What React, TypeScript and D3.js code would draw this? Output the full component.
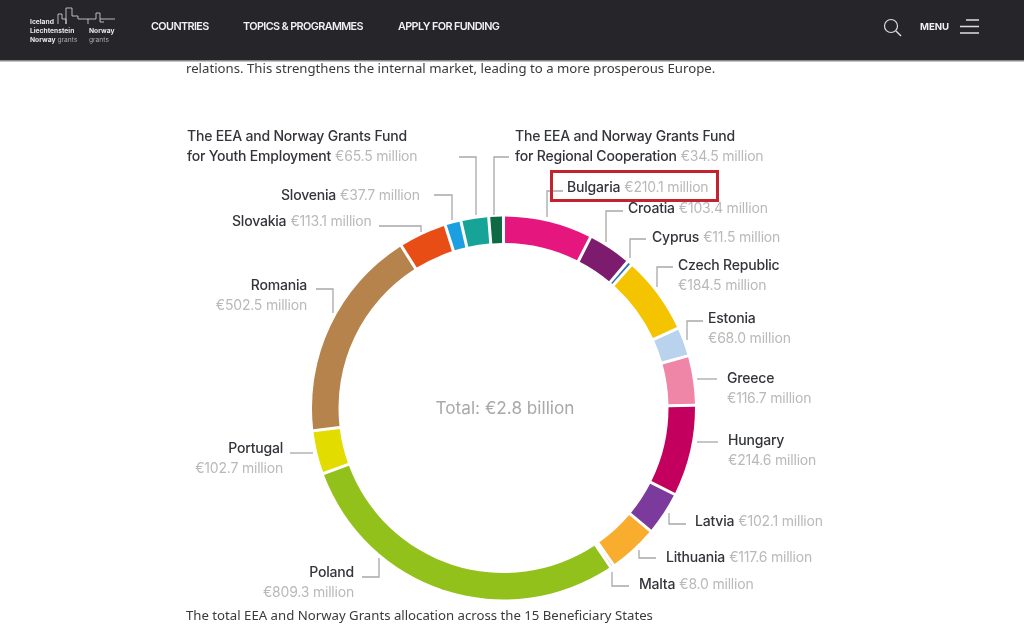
import React from 'react';
import * as d3 from 'd3';

const countries = ['Bulgaria','Croatia','Cyprus','Czech Republic','Estonia','Greece','Hungary','Latvia','Lithuania','Malta','Poland','Portugal','Romania','Slovakia','Slovenia','Youth','Regional'];
const allocations = [210.1,103.4,11.5,184.5,68.0,116.7,214.6,102.1,117.6,8.0,809.3,102.7,502.5,113.1,37.7,65.5,34.5];
const colours = ['#e6177f','#7d1f6e','#2f6fb5','#f5c400','#b9d2ee','#ef86a8','#c4005f','#7c3a9c','#f8ad2f','#c2c2ae','#93c11c','#e2dc04','#b5834b','#e94e16','#1e9fe0','#17a398','#0b6a45'];
const navItems = [['COUNTRIES',151],['TOPICS & PROGRAMMES',243],['APPLY FOR FUNDING',398]] as const;

// label layout: lines of [dark text, grey text], x, first baseline, anchor, leader polyline
type L = { lines: [string,string][]; x:number; y:number; a?:'start'|'end'; dy?:number; leader:[number,number][] };
const fmt = (i:number) => `€${allocations[i].toFixed(1)} million`;
const labels: L[] = [
  {lines:[['Bulgaria',fmt(0)]],x:567,y:192,leader:[[547,217],[547,191],[563,191]]},
  {lines:[['Croatia',fmt(1)]],x:628,y:213,leader:[[606,242],[606,211],[623,211]]},
  {lines:[['Cyprus',fmt(2)]],x:652,y:242,leader:[[630,258],[630,239],[646,239]]},
  {lines:[['Czech Republic',''],['',fmt(3)]],x:678,y:270,leader:[[657,287],[657,267],[673,267]]},
  {lines:[['Estonia',''],['',fmt(4)]],x:708,y:323,leader:[[687,340],[687,321],[703,321]]},
  {lines:[['Greece',''],['',fmt(5)]],x:727,y:383,leader:[[697,379],[717,379]]},
  {lines:[['Hungary',''],['',fmt(6)]],x:728,y:445,leader:[[697,442],[718,442]]},
  {lines:[['Latvia',fmt(7)]],x:695,y:526,leader:[[669,513],[669,524],[686,524]]},
  {lines:[['Lithuania',fmt(8)]],x:666,y:562,leader:[[639,550],[639,558],[656,558]]},
  {lines:[['Malta',fmt(9)]],x:639,y:589,leader:[[612,572],[612,586],[629,586]]},
  {lines:[['Poland',''],['',fmt(10)]],x:354,y:577,a:'end',leader:[[362,577],[379,577],[379,558]]},
  {lines:[['Portugal',''],['',fmt(11)]],x:283,y:453,a:'end',leader:[[290,453],[313,453]]},
  {lines:[['Romania',''],['',fmt(12)]],x:307,y:290,a:'end',leader:[[316,289],[333,289],[333,313]]},
  {lines:[['Slovakia',fmt(13)]],x:232,y:226,leader:[[379,226],[421,226],[421,232]]},
  {lines:[['Slovenia',fmt(14)]],x:281,y:200,leader:[[434,195],[452,195],[452,220]]},
  {lines:[['The EEA and Norway Grants Fund',''],['for Youth Employment',fmt(15)]],x:187,y:141,leader:[[459,157],[476,157],[476,215]]},
  {lines:[['The EEA and Norway Grants Fund',''],['for Regional Cooperation',fmt(16)]],x:515,y:141,leader:[[494,215],[494,157],[509,157]]},
];

const font = 'Inter, "Liberation Sans", sans-serif';
const cx = 503.5, cy = 408, rOuter = 191.5, rInner = 165;

export default function App() {
  const pie = d3.pie<number>().sort(null);
  const arc = d3.arc<d3.PieArcDatum<number>>().innerRadius(rInner).outerRadius(rOuter).padAngle(0.012);
  const slices = pie(allocations);
  const line = d3.line();
  return (
    <svg width={1024} height={643} style={{position:'absolute',left:0,top:0,background:'#fff'}}>
      <defs><filter id="soft" x="0" y="0" width="100%" height="100%"><feGaussianBlur stdDeviation="0.45"/></filter></defs>
      <g filter="url(#soft)">
      <text x={186} y={73} fontFamily='"Noto Sans", sans-serif' fontSize={13.2} fill="#3a3a3a">relations. This strengthens the internal market, leading to a more prosperous Europe.</text>
      <rect x={0} y={0} width={1024} height={61} fill="#25262b"/>
      <rect x={0} y={60} width={1024} height={1.5} fill="#8a8a8a"/>
      {/* logo */}
      <g fontFamily={font} fontWeight={700} fontSize={6.7} fill="#e8e8e8">
        <text x={30} y={23.5}>Iceland</text>
        <text x={30} y={32.5}>Liechtenstein</text>
        <text x={30} y={41.5}>Norway<tspan fontWeight={400} fill="#aaa" dx={2}>grants</tspan></text>
        <text x={89} y={32.5}>Norway</text>
        <text x={89} y={41.5} fontWeight={400} fill="#aaa">grants</text>
      </g>
      <path d="M58 24V14H62V19H66V24M66 24V8H72V16H78V19H88V24M88 19H96V13H100V22H104M100 19H115" fill="none" stroke="#ddd" strokeWidth={0.8}/>
      {navItems.map(([t,x]) => <text key={t} x={x} y={30} fontFamily={font} fontWeight={600} fontSize={10.8} letterSpacing={-0.6} fill="#f1f1f1">{t}</text>)}
      <circle cx={891} cy={26} r={6.5} fill="none" stroke="#ddd" strokeWidth={1.2}/>
      <path d="M896 31L901 36" stroke="#ddd" strokeWidth={1.4}/>
      <text x={920} y={29.5} fontFamily={font} fontWeight={700} fontSize={9.6} fill="#f1f1f1">MENU</text>
      <path d="M966 20H979M960 26.5H979M960 33H979" stroke="#ddd" strokeWidth={1.3}/>
      {/* donut */}
      <g transform={`translate(${cx},${cy})`}>
        {slices.map((s,i) => <path key={countries[i]} d={arc(s) as string} fill={colours[i]}/>)}
      </g>
      <text x={505} y={414} textAnchor="middle" fontFamily={font} fontSize={17.2} fill="#a9a9a9">Total: €2.8 billion</text>
      {labels.map((l,i) => (
        <g key={i}>
          <path d={line(l.leader) as string} fill="none" stroke="#a8a8a8" strokeWidth={1.3}/>
          {l.lines.map(([d,g],j) => (
            <text key={j} x={l.x} y={l.y + j*19.8} textAnchor={l.a ?? 'start'} fontFamily={font} fontSize={14} letterSpacing={-0.2}>
              {d && <tspan fontWeight={500} fill="#33343a">{d}</tspan>}
              {g && <tspan fill="#b9b9b9" dx={d ? 4 : 0}>{g}</tspan>}
            </text>
          ))}
        </g>
      ))}
      <rect x={551.5} y={171.5} width={166} height={29} fill="none" stroke="#c4222f" strokeWidth={3}/>
      <text x={186} y={620} fontFamily='"Noto Sans", sans-serif' fontSize={13.2} fill="#3a3a3a">The total EEA and Norway Grants allocation across the 15 Beneficiary States</text>
      </g>
    </svg>
  );
}
